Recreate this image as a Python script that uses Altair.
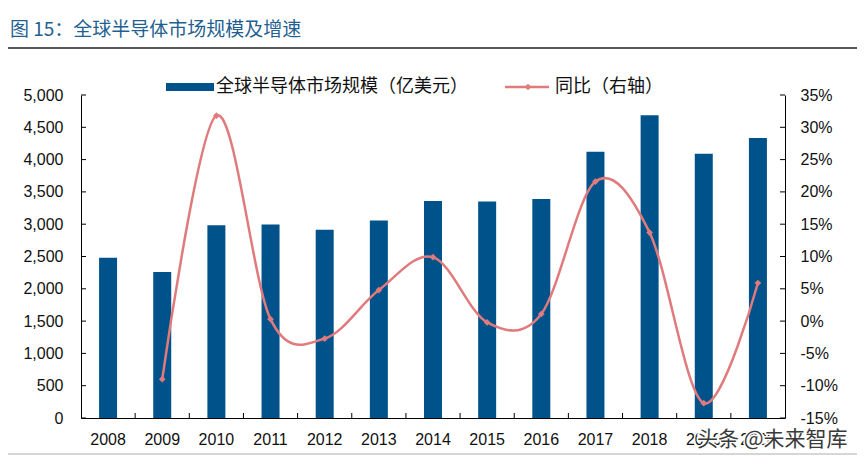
import altair as alt
import pandas as pd

# ---------------- data ----------------
years = ["2008", "2009", "2010", "2011", "2012", "2013", "2014",
         "2015", "2016", "2017", "2018", "2019", "2020"]
market = [2480, 2260, 2983, 2995, 2916, 3056, 3358, 3352, 3389, 4122, 4688, 4090, 4334]
growth = [None, -9.0, 31.8, 0.3, -2.7, 4.8, 9.9, -0.2, 1.1, 21.6, 13.7, -12.7, 5.9]

left_ticks = [0, 500, 1000, 1500, 2000, 2500, 3000, 3500, 4000, 4500, 5000]
right_ticks = [-15, -10, -5, 0, 5, 10, 15, 20, 25, 30, 35]

title_text = ["图 15：全球半导体市场规模及增速"]
bar_label = ["全球半导体市场规模（亿美元）"]
line_label = ["同比（右轴）"]
watermark = ["头条 @未来智库"]

# ---------------- style ----------------
BLUE = "#00538A"
RED = "#E07A7C"
TITLE_BLUE = "#1F5F91"
FONT = "Liberation Sans"
CJK = "Noto Sans CJK SC"
W, H = 704, 323

df = pd.DataFrame({"year": years, "market": market, "growth": growth})
line_df = df.dropna(subset=["growth"])

x_axis = alt.Axis(title=None, labelAngle=0, ticks=False, domainColor="#000",
                  domainWidth=1, labelFont=FONT, labelFontSize=16,
                  labelColor="#111", labelPadding=13, labelOverlap=False)
x_scale = alt.Scale(paddingInner=0, paddingOuter=0)


def xenc(**kw):
    return alt.X("year:N", sort=years, scale=x_scale, axis=x_axis, **kw)


left_axis = alt.Axis(title=None, values=left_ticks,
                     labelExpr="format(datum.value, ',.0f')", ticks=False,
                     grid=False, labelFont=FONT, labelFontSize=16,
                     labelColor="#111", labelPadding=18, domainColor="#000",
                     labelOverlap=False)
right_axis = alt.Axis(title=None, orient="right", values=right_ticks,
                      labelExpr="datum.value + '%'", ticks=False, grid=False,
                      labelFont=FONT, labelFontSize=16, labelColor="#111",
                      labelPadding=15, domainColor="#000", labelOverlap=False)

lscale = alt.Scale(domain=[0, 5000], nice=False)
bars = alt.Chart(df).mark_bar(size=18, color=BLUE).encode(
    x=xenc(),
    y=alt.Y("market:Q", scale=lscale, axis=left_axis),
)
lticks = alt.Chart(pd.DataFrame({"market": left_ticks})).mark_rule(color="#000").encode(
    y=alt.Y("market:Q", scale=lscale, axis=left_axis), x=alt.value(0), x2=alt.value(5)
)
left_layer = alt.layer(bars, lticks)

gscale = alt.Scale(domain=[-15, 35], nice=False)
line = alt.Chart(line_df).mark_line(color=RED, strokeWidth=2.5, interpolate="cardinal").encode(
    x=xenc(),
    y=alt.Y("growth:Q", scale=gscale, axis=right_axis),
)
points = alt.Chart(line_df).mark_point(shape="diamond", filled=True, size=45,
                                       color=RED, opacity=1).encode(
    x=xenc(), y=alt.Y("growth:Q", scale=gscale, axis=right_axis)
)
rticks = alt.Chart(pd.DataFrame({"growth": right_ticks})).mark_rule(color="#000").encode(
    y=alt.Y("growth:Q", scale=gscale, axis=right_axis), x=alt.value(W - 5), x2=alt.value(W)
)
right_layer = alt.layer(line, points, rticks)

xticks = alt.Chart(pd.DataFrame({"year": years[1:]})).mark_rule(color="#000").encode(
    x=xenc(bandPosition=0), y=alt.value(H - 5), y2=alt.value(H)
)

# ---------------- decorations ----------------
title = alt.Chart(pd.DataFrame({"t": title_text})).mark_text(
    align="left", baseline="middle", font=CJK, fontSize=19, color=TITLE_BLUE
).encode(text="t:N", x=alt.value(-71), y=alt.value(-65))
title_rule = alt.Chart(pd.DataFrame({"t": title_text})).mark_rule(
    color="#222", strokeWidth=1.5
).encode(x=alt.value(-73), x2=alt.value(W + 80), y=alt.value(-47))
bottom_rule = alt.Chart(pd.DataFrame({"t": title_text})).mark_rule(
    color="#c8c8c8", strokeWidth=1.5
).encode(x=alt.value(-73), x2=alt.value(W + 80), y=alt.value(359))

leg_rect = alt.Chart(pd.DataFrame({"t": bar_label})).mark_rect(color=BLUE).encode(
    x=alt.value(85), x2=alt.value(133), y=alt.value(-12), y2=alt.value(-4)
)
leg_text1 = alt.Chart(pd.DataFrame({"t": bar_label})).mark_text(
    align="left", baseline="middle", font=CJK, fontSize=18, color="#111"
).encode(text="t:N", x=alt.value(135), y=alt.value(-8))
leg_line = alt.Chart(pd.DataFrame({"t": line_label})).mark_rule(
    color=RED, strokeWidth=2.5
).encode(x=alt.value(424), x2=alt.value(468), y=alt.value(-8))
leg_pt = alt.Chart(pd.DataFrame({"t": line_label})).mark_point(
    shape="diamond", filled=True, size=45, color=RED, opacity=1
).encode(x=alt.value(447), y=alt.value(-8))
leg_text2 = alt.Chart(pd.DataFrame({"t": line_label})).mark_text(
    align="left", baseline="middle", font=CJK, fontSize=18, color="#111"
).encode(text="t:N", x=alt.value(474), y=alt.value(-8))

wm_halo = alt.Chart(pd.DataFrame({"t": watermark})).mark_text(
    align="left", baseline="middle", font=CJK, fontSize=21, color="#fff",
    stroke="#fff", strokeWidth=3
).encode(text="t:N", x=alt.value(616), y=alt.value(345))
wm = alt.Chart(pd.DataFrame({"t": watermark})).mark_text(
    align="left", baseline="middle", font=CJK, fontSize=21, color="#3a3a3a"
).encode(text="t:N", x=alt.value(616), y=alt.value(345))

chart = alt.layer(
    left_layer, right_layer, xticks,
    title, title_rule, bottom_rule,
    leg_rect, leg_text1, leg_line, leg_pt, leg_text2,
    wm_halo, wm,
).resolve_scale(y="independent").properties(
    width=W, height=H,
    autosize=alt.AutoSizeParams(type="none"),
    padding={"left": 73, "top": 87, "right": 72, "bottom": 38},
).configure_view(stroke=None)

chart.save("out.html", embed_options={"renderer": "svg", "actions": False})
